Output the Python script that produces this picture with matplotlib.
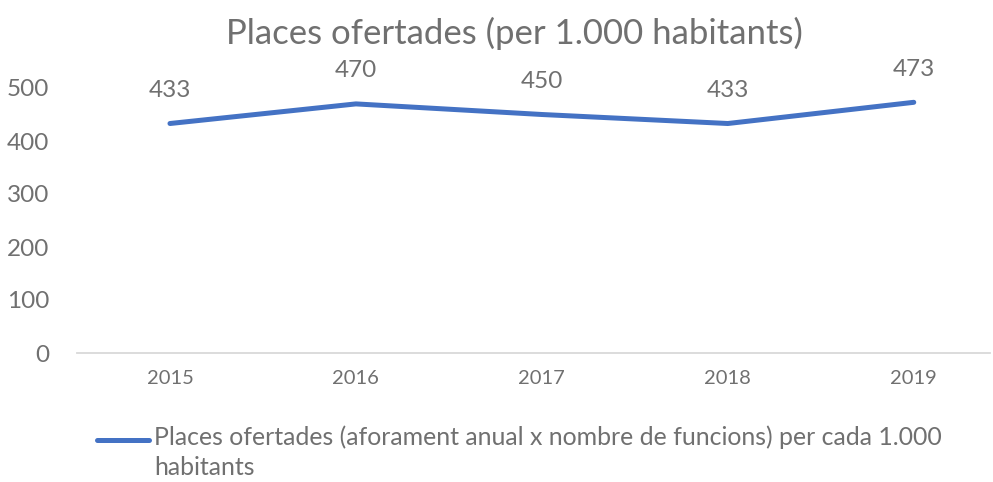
import matplotlib.pyplot as plt
from matplotlib.lines import Line2D

# chart data
years = ['2015', '2016', '2017', '2018', '2019']
places = [433, 470, 450, 433, 473]
series_label = 'Places ofertades (aforament anual x nombre de funcions) per cada 1.000\nhabitants'
title = 'Places ofertades (per 1.000 habitants)'

grey = '#707070'
blue = '#4472C4'
plt.rcParams['font.family'] = ['Lato', 'DejaVu Sans']

fig = plt.figure(figsize=(9.93, 4.82), dpi=100)
ax = fig.add_axes([77 / 993, 129 / 482, 913 / 993, 265 / 482])

x = list(range(len(years)))
ax.plot(x, places, color=blue, lw=3.6, solid_capstyle='round', clip_on=False)
for xi, v in zip(x, places):
    ax.annotate(str(v), (xi, v), xytext=(0, 33), textcoords='offset pixels',
                ha='center', va='center', fontsize=17.5, color=grey)

ax.set_xlim(-0.5, 4.41)
ax.set_ylim(0, 500)
ax.set_yticks([0, 100, 200, 300, 400, 500])
ax.set_xticks(x)
ax.set_xticklabels(years)
ax.tick_params(axis='y', length=0, labelsize=17.5, labelcolor=grey, pad=20)
ax.tick_params(axis='x', length=0, labelsize=14.5, labelcolor=grey, pad=12)
for s in ['top', 'right', 'left']:
    ax.spines[s].set_visible(False)
ax.spines['bottom'].set_color('#D9D9D9')
ax.spines['bottom'].set_linewidth(1.3)

fig.text(514 / 993, 1 - 33 / 482, title, ha='center', va='center', fontsize=25, color=grey)

# legend
fig.add_artist(Line2D([97 / 993, 149 / 993], [1 - 440 / 482, 1 - 440 / 482],
                      color=blue, lw=3.6, solid_capstyle='round'))
fig.text(154 / 993, 1 - 425 / 482, series_label, ha='left', va='top',
         fontsize=17.9, color=grey, linespacing=1.4)

fig.savefig('out.png', dpi=100)
